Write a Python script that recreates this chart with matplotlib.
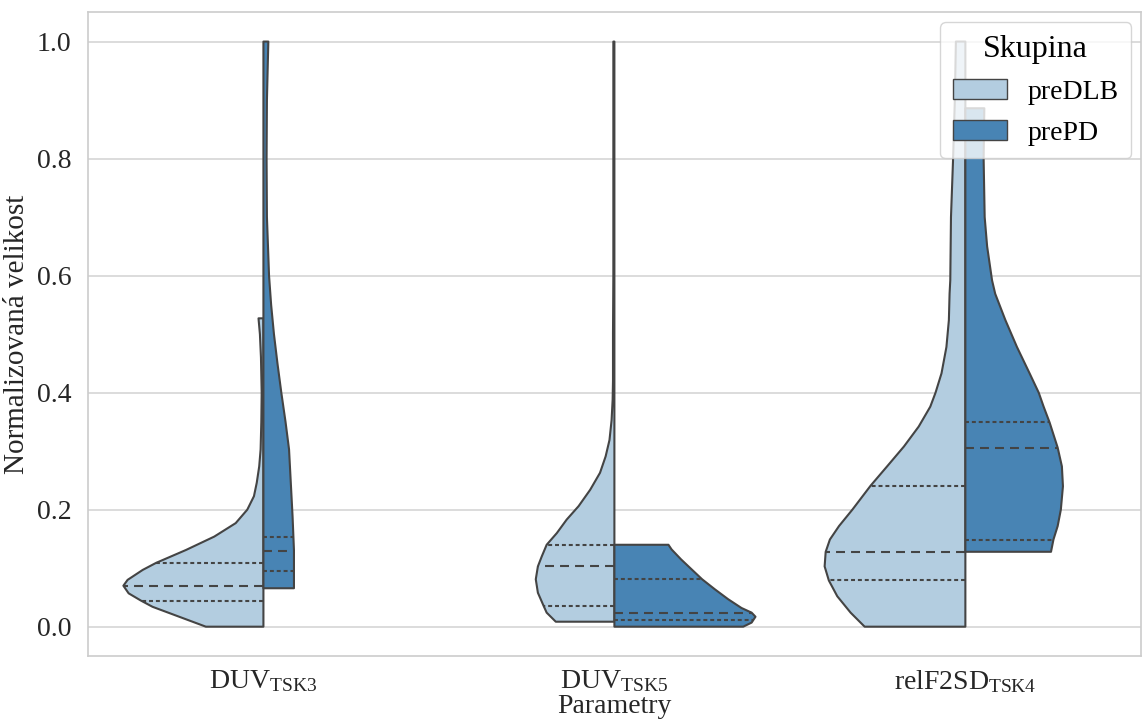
import numpy as np
import matplotlib
matplotlib.use('Agg')
import matplotlib.pyplot as plt
from matplotlib.patches import Patch

plt.rcParams['font.family'] = ['Liberation Serif', 'DejaVu Serif']
plt.rcParams['mathtext.fontset'] = 'custom'
plt.rcParams['mathtext.rm'] = 'Liberation Serif'
plt.rcParams['mathtext.it'] = 'Liberation Serif:italic'

# parametry a skupiny
params = [r'$\mathrm{DUV}_{\mathrm{TSK3}}$', r'$\mathrm{DUV}_{\mathrm{TSK5}}$', r'$\mathrm{relF2SD}_{\mathrm{TSK4}}$']
groups = ['preDLB', 'prePD']
colors = ['#b3cde0', '#4884b4']

# hustota (polovicni sirka): y hodnoty a sirky
dlb_y = [
    [0.0, 0.017, 0.034, 0.0446, 0.057, 0.070, 0.08, 0.097, 0.109, 0.131, 0.154, 0.177, 0.2, 0.223,
     0.246, 0.274, 0.303, 0.35, 0.40, 0.46, 0.50, 0.527],
    [0.0085, 0.024, 0.036, 0.058, 0.081, 0.103, 0.12, 0.14, 0.16, 0.183, 0.206, 0.234, 0.263, 0.291,
     0.319, 0.353, 0.388, 0.42, 0.5, 0.6, 0.8, 1.0],
    [0.0, 0.024, 0.052, 0.079, 0.103, 0.128, 0.149, 0.172, 0.2, 0.241, 0.274, 0.308, 0.342, 0.376,
     0.4, 0.433, 0.478, 0.524, 0.569, 0.592, 0.7, 0.8, 0.9, 1.0],
]
dlb_w = [
    [0.164, 0.24, 0.316, 0.349, 0.384, 0.399, 0.387, 0.344, 0.306, 0.221, 0.14, 0.079, 0.046, 0.027,
     0.019, 0.012, 0.008, 0.006, 0.005, 0.007, 0.01, 0.014],
    [0.167, 0.193, 0.202, 0.218, 0.224, 0.218, 0.207, 0.193, 0.164, 0.136, 0.102, 0.069, 0.041, 0.025,
     0.014, 0.008, 0.005, 0.004, 0.004, 0.003, 0.003, 0.003],
    [0.287, 0.327, 0.365, 0.389, 0.401, 0.398, 0.386, 0.36, 0.322, 0.27, 0.223, 0.175, 0.133, 0.10,
     0.085, 0.068, 0.054, 0.047, 0.045, 0.043, 0.041, 0.035, 0.03, 0.027],
]
pd_y = [
    [0.0657, 0.131, 0.189, 0.246, 0.303, 0.35, 0.4, 0.45, 0.5, 0.55, 0.6, 0.7, 0.8, 0.9, 1.0],
    [0.0, 0.007, 0.017, 0.024, 0.032, 0.047, 0.064, 0.081, 0.098, 0.115, 0.132, 0.14],
    [0.128, 0.149, 0.172, 0.2, 0.24, 0.274, 0.306, 0.349, 0.376, 0.4, 0.433, 0.478, 0.524, 0.569,
     0.592, 0.65, 0.7, 0.8, 0.886],
]
pd_w = [
    [0.087, 0.087, 0.083, 0.078, 0.073, 0.063, 0.051, 0.040, 0.030, 0.022, 0.016, 0.010, 0.009, 0.010, 0.014],
    [0.367, 0.391, 0.402, 0.391, 0.362, 0.324, 0.286, 0.25, 0.22, 0.19, 0.163, 0.154],
    [0.244, 0.251, 0.263, 0.272, 0.278, 0.275, 0.263, 0.24, 0.223, 0.209, 0.183, 0.147, 0.114, 0.085,
     0.076, 0.062, 0.055, 0.052, 0.054],
]

# kvartily (Q1, median, Q3)
dlb_q = [[0.0446, 0.0703, 0.1086], [0.036, 0.103, 0.140], [0.079, 0.128, 0.241]]
pd_q = [[0.096, 0.130, 0.154], [0.0114, 0.024, 0.081], [0.149, 0.306, 0.349]]

edge = '#444444'

fig = plt.figure(figsize=(11.42, 7.24), dpi=100)
ax = fig.add_axes([0.077, 0.094, 0.922, 0.889])
ax.set_axisbelow(True)
ax.grid(axis='y', color='#d5d5d5', linewidth=1.2)
for s in ax.spines.values():
    s.set_color('#cccccc')
    s.set_linewidth(1.2)


def draw_half(pos, ys, ws, qs, side, color):
    ys = np.array(ys)
    ws = np.array(ws)
    xs = pos + side * ws
    px = np.concatenate([[pos], xs, [pos]])
    py = np.concatenate([[ys[0]], ys, [ys[-1]]])
    ax.fill(px, py, facecolor=color, edgecolor=edge, linewidth=1.5, zorder=2,
            joinstyle='round')
    for k, q in enumerate(qs):
        wq = np.interp(q, ys, ws)
        ls = (0, (4.3, 2.9)) if k == 1 else (0, (1.9, 1.4))
        ax.plot([pos, pos + side * wq], [q, q], color=edge, linewidth=1.5,
                linestyle=ls, zorder=3)


for i in range(len(params)):
    draw_half(i, dlb_y[i], dlb_w[i], dlb_q[i], -1, colors[0])
    draw_half(i, pd_y[i], pd_w[i], pd_q[i], 1, colors[1])

ax.set_xlim(-0.5, 2.5)
ax.set_ylim(-0.05, 1.05)
ax.set_xticks(range(len(params)))
ax.set_xticklabels(params, fontsize=20)
ax.set_yticks([0.0, 0.2, 0.4, 0.6, 0.8, 1.0])
ax.set_yticklabels(['0.0', '0.2', '0.4', '0.6', '0.8', '1.0'], fontsize=20)
ax.tick_params(axis='both', length=0, colors='#262626')
ax.tick_params(axis='y', pad=12)
ax.tick_params(axis='x', pad=9)
ax.set_xlabel('Parametry', fontsize=20, color='#262626', labelpad=-1)
ax.set_ylabel('Normalizovaná velikost', fontsize=21, color='#262626', labelpad=5)

handles = [Patch(facecolor=colors[0], edgecolor=edge, label=groups[0]),
           Patch(facecolor=colors[1], edgecolor=edge, label=groups[1])]
leg = ax.legend(handles=handles, title='Skupina', loc='upper right', fontsize=20,
                title_fontsize=23, framealpha=0.8, edgecolor='#cccccc',
                handlelength=1.95, handleheight=0.75, borderpad=0.45,
                labelspacing=0.55, handletextpad=0.75, borderaxespad=0.35)

fig.savefig('out.png', dpi=100)
